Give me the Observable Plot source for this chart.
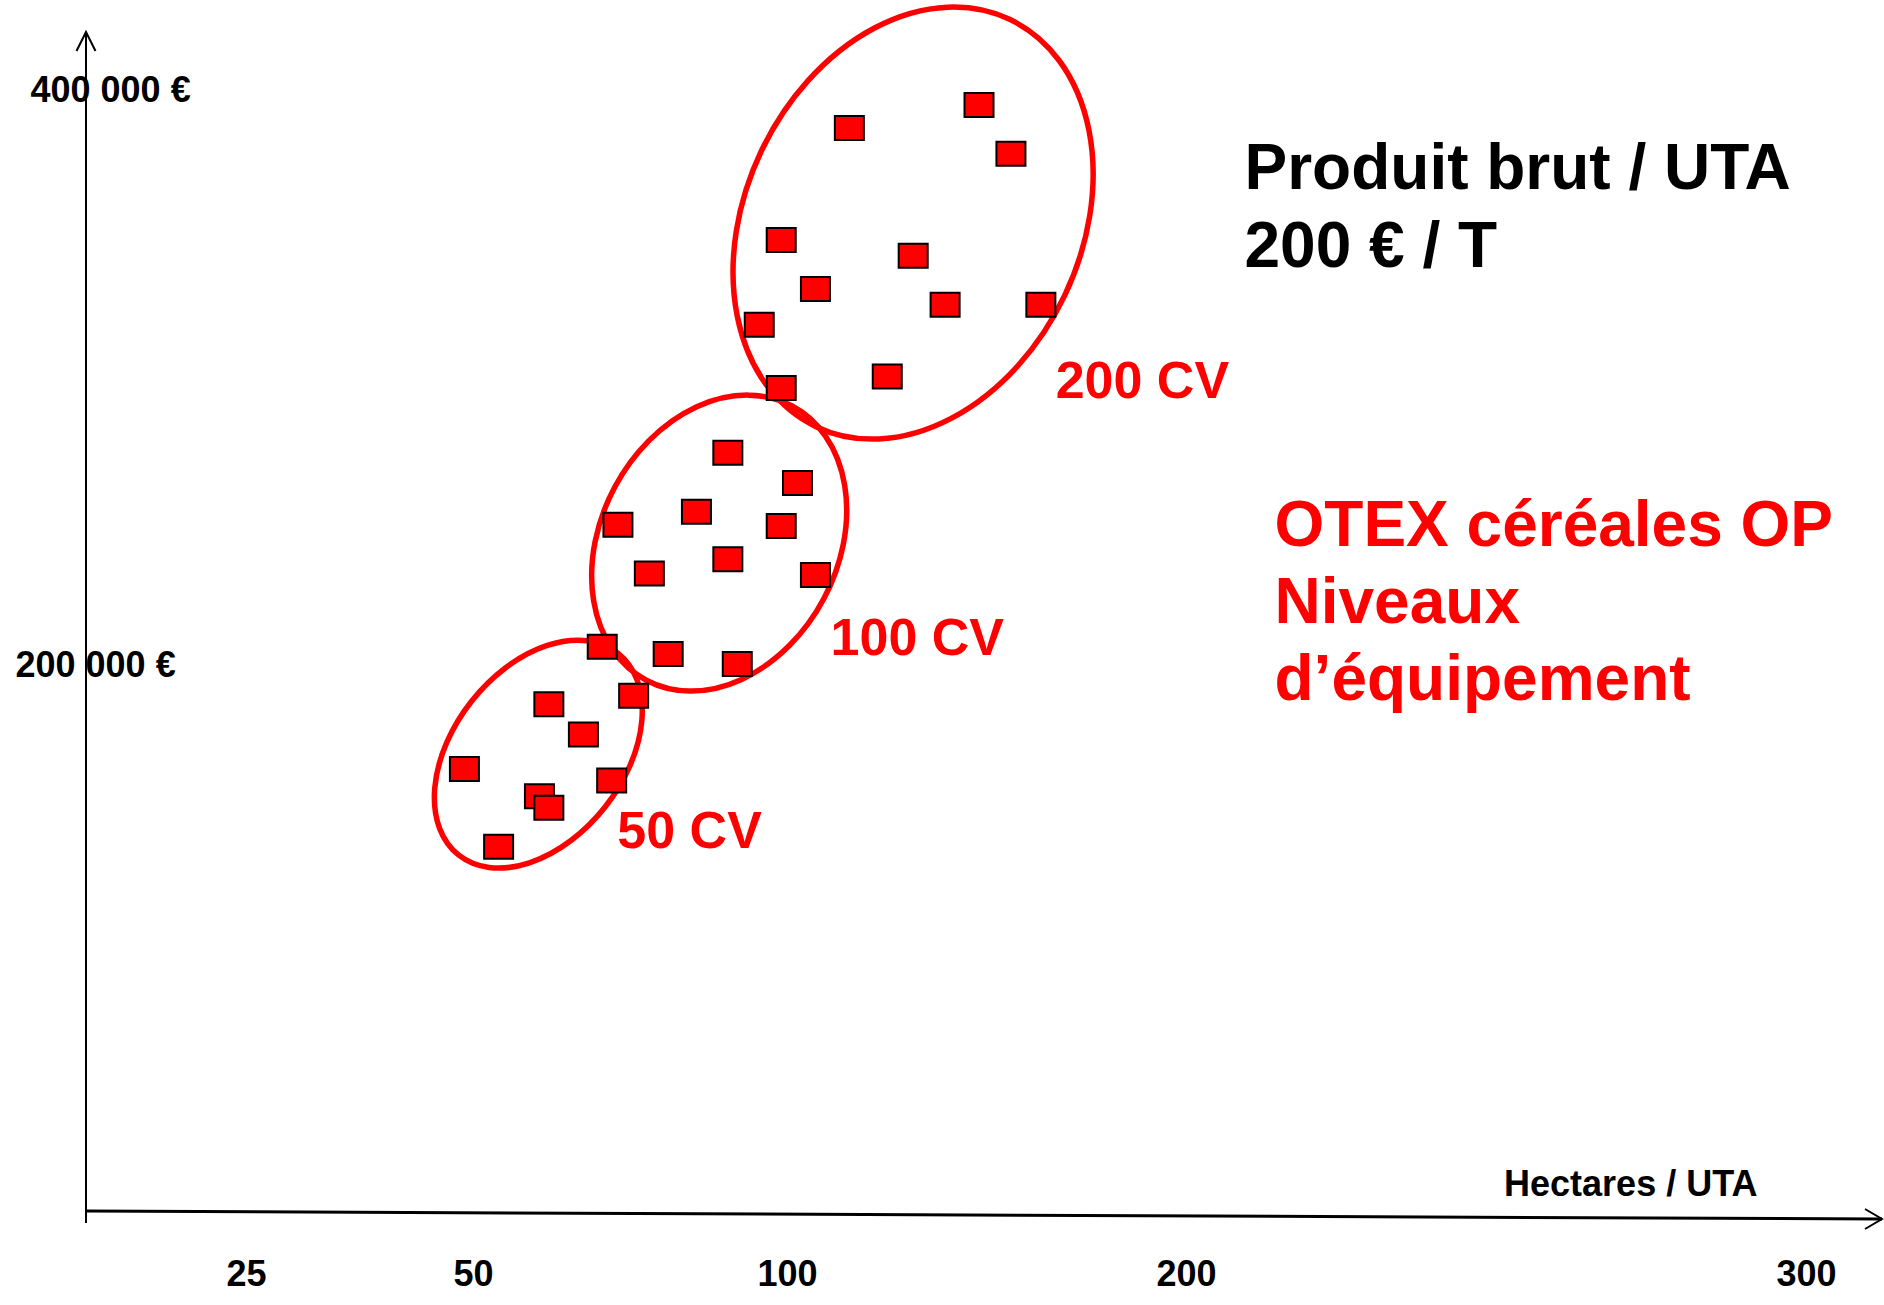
<!DOCTYPE html>
<html>
<head>
<meta charset="utf-8">
<script src="https://cdn.jsdelivr.net/npm/d3@7"></script>
<script src="https://cdn.jsdelivr.net/npm/@observablehq/plot@0.6"></script>
<style>
  html, body { margin: 0; padding: 0; background: #ffffff; }
  svg { display: block; }
</style>
</head>
<body>
<script>
// ---------- data ----------
const xTicks = [25, 50, 100, 200, 300];
const xTickLabels = ["25", "50", "100", "200", "300"];
const yTicks = [200000, 400000];
const yTickLabels = ["200 000 €", "400 000 €"];

const groups = ["50 CV", "100 CV", "200 CV"];

// hectares / UTA for each farm
const pointHa = [
  49, 54, 60.5, 62, 62, 67.5, 72, 75.5, 70.5,
  73, 78, 81, 85.5, 90.5, 90.5, 92, 99, 102.5, 107,
  95.5, 99, 99, 107, 115.5, 125, 131.5, 139.5, 148, 156, 163.5
];
// produit brut / UTA (€)
const pointEur = [
  164000, 137000, 154500, 150500, 186500, 176000, 160000, 189500, 206500,
  249000, 232000, 204000, 253500, 237000, 274000, 200500, 248500, 263500, 231500,
  318500, 296500, 348000, 331000, 387000, 300500, 342500, 325500, 395000, 378000, 325500
];
const pointGroup = [
  "50 CV", "50 CV", "50 CV", "50 CV", "50 CV", "50 CV", "50 CV", "50 CV", "50 CV",
  "100 CV", "100 CV", "100 CV", "100 CV", "100 CV", "100 CV", "100 CV", "100 CV", "100 CV", "100 CV",
  "200 CV", "200 CV", "200 CV", "200 CV", "200 CV", "200 CV", "200 CV", "200 CV", "200 CV", "200 CV", "200 CV"
];

// equipment-level clusters (centre of each circled group, in data units)
const groupCenterHa = [60.4, 89.2, 131.6];
const groupCenterEur = [169000, 242400, 353700];
// where each group's label sits (data units)
const groupLabelHa = [72.9, 110.8, 167.2];
const groupLabelEur = [136400, 203500, 293200];

const titleText = "Produit brut / UTA\n200 € / T";
const noteText = "OTEX céréales OP\nNiveaux\nd’équipement";
const xAxisTitle = "Hectares / UTA";

// ---------- styles ----------
const RED = "#ff0000";
const ellipseStyle = [
  {rx: 128.6, ry: 85.2, angle: -51.8},
  {rx: 155.3, ry: 118.5, angle: -62},
  {rx: 225.5, ry: 168, angle: -64.5}
];
const squareSymbol = {
  draw(context) { context.rect(-14.5, -12, 29, 24); }
};

const points = pointHa.map((h, i) => ({ha: h, eur: pointEur[i], group: pointGroup[i]}));
const groupRows = groups.map((g, i) => ({
  group: g, cx: groupCenterHa[i], cy: groupCenterEur[i],
  lx: groupLabelHa[i], ly: groupLabelEur[i], style: ellipseStyle[i]
}));

// ellipses drawn through the x/y scales
function ellipses(index, scales) {
  const g = d3.create("svg:g").attr("fill", "none").attr("stroke", RED).attr("stroke-width", 5.5);
  for (const r of groupRows) {
    const cx = scales.x(r.cx), cy = scales.y(r.cy);
    g.append("ellipse")
      .attr("cx", cx).attr("cy", cy)
      .attr("rx", r.style.rx).attr("ry", r.style.ry)
      .attr("transform", `rotate(${r.style.angle} ${cx} ${cy})`);
  }
  return g.node();
}

// arrowed axes on the frame edges
function axes(index, scales, values, dims) {
  const {width, height, marginLeft: ml, marginTop: mt, marginRight: mr, marginBottom: mb} = dims;
  const g = d3.create("svg:g").attr("fill", "none").attr("stroke", "#000");
  const yb = height - mb, xe = width - mr;
  g.append("path").attr("d", `M${ml},${yb + 8}V${mt}`).attr("stroke-width", 2);
  g.append("path").attr("d", `M${ml - 9.5},${mt + 19}L${ml},${mt}L${ml + 9.5},${mt + 19}`).attr("stroke-width", 2);
  g.append("path").attr("d", `M${ml},${yb - 4}L${xe},${yb + 4}`).attr("stroke-width", 3);
  g.append("path").attr("d", `M${xe - 17},${yb - 6}L${xe},${yb + 4}L${xe - 17},${yb + 14}`).attr("stroke-width", 2);
  return g.node();
}

const chart = Plot.plot({
  width: 1884,
  height: 1305,
  marginTop: 32,
  marginRight: 2,
  marginBottom: 90,
  marginLeft: 86,
  style: {background: "#ffffff", fontFamily: "'Liberation Sans', Arial, sans-serif"},
  x: {type: "linear", domain: xTicks, range: [246, 473, 787, 1186, 1806], axis: null},
  y: {type: "linear", domain: [0, 400000], range: [1240, 90], axis: null},
  marks: [
    axes,
    ellipses,
    Plot.dot(points, {
      x: "ha", y: "eur", symbol: squareSymbol,
      fill: RED, stroke: "#000", strokeWidth: 2
    }),
    // x tick labels
    Plot.text(xTicks, {
      x: d => d, text: (d, i) => xTickLabels[i],
      frameAnchor: "bottom", lineAnchor: "middle", dy: 59,
      fontSize: 36, fontWeight: "bold", fill: "#000"
    }),
    // y tick labels
    Plot.text([yTicks[0]], {
      y: d => d, text: () => yTickLabels[0],
      frameAnchor: "left", textAnchor: "start", lineAnchor: "middle", dx: -71,
      fontSize: 36, fontWeight: "bold", fill: "#000"
    }),
    Plot.text([yTicks[1]], {
      y: d => d, text: () => yTickLabels[1],
      frameAnchor: "left", textAnchor: "start", lineAnchor: "middle", dx: -56,
      fontSize: 36, fontWeight: "bold", fill: "#000"
    }),
    // x axis title
    Plot.text([xAxisTitle], {
      text: d => d, frameAnchor: "bottom-right", textAnchor: "end", lineAnchor: "bottom",
      dx: -125, dy: -20, fontSize: 36, fontWeight: "bold", fill: "#000"
    }),
    // group labels
    Plot.text(groupRows, {
      x: "lx", y: "ly", text: "group", textAnchor: "start", lineAnchor: "bottom",
      fontSize: 52, fontWeight: "bold", fill: RED
    }),
    // black annotation
    Plot.text([titleText], {
      text: d => d, frameAnchor: "top-left", textAnchor: "start", lineAnchor: "top",
      dx: 1158, dy: 100.6, lineHeight: 1.219, fontSize: 64, fontWeight: "bold", fill: "#000"
    }),
    // red annotation
    Plot.text([noteText], {
      text: d => d, frameAnchor: "top-left", textAnchor: "start", lineAnchor: "top",
      dx: 1188, dy: 459.3, lineHeight: 1.203, fontSize: 64, fontWeight: "bold", fill: RED
    })
  ]
});

document.body.appendChild(chart);
</script>
</body>
</html>
